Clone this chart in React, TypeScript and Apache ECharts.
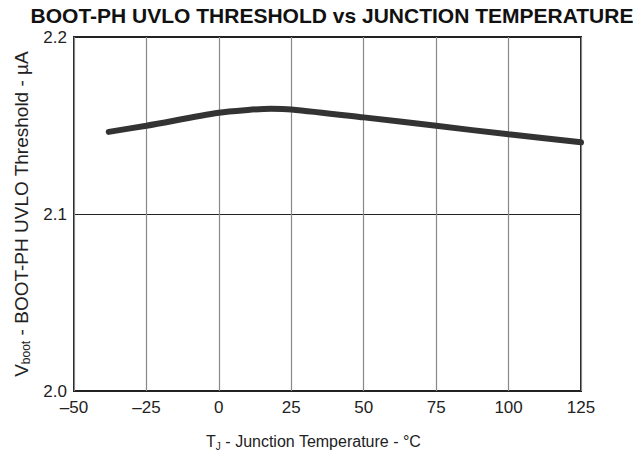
import React, { useEffect, useRef } from "react";
import * as echarts from "echarts";

const temps = [-38, -25, 0, 10, 18, 25, 50, 75, 100, 125];
const threshold = [2.1464, 2.1499, 2.1572, 2.1588, 2.1595, 2.1591, 2.1546, 2.1498, 2.1450, 2.1405];
const yTicks = [2.0, 2.1, 2.2];

export default function App() {
  const ref = useRef<HTMLDivElement>(null);
  useEffect(() => {
    if (!ref.current) return;
    const chart = echarts.init(ref.current, null, { renderer: "svg" });
    const font = "Liberation Sans, Arial, sans-serif";
    chart.setOption({
      animation: false,
      title: {
        text: "BOOT-PH UVLO THRESHOLD vs JUNCTION TEMPERATURE",
        left: 332,
        textAlign: "center",
        top: 5,
        padding: 0,
        textStyle: { fontFamily: font, fontSize: 21, fontWeight: "bold", color: "#111" },
      },
      grid: { left: 74, right: 62, top: 37, bottom: 62, show: true, borderColor: "#222", borderWidth: 2, containLabel: false },
      xAxis: {
        type: "value",
        min: -50,
        max: 125,
        interval: 25,
        name: "T{sub|J} - Junction Temperature - °C",
        nameLocation: "middle",
        nameGap: 41,
        nameTextStyle: {
          fontFamily: font, fontSize: 16, color: "#222", padding: [0, 28, 0, 0],
          rich: { sub: { fontFamily: font, fontSize: 10, verticalAlign: "bottom", padding: [9, 0, 0, 0], color: "#222" } },
        },
        axisLine: { show: false },
        axisTick: { show: false },
        axisLabel: {
          fontFamily: font, fontSize: 17, color: "#222", margin: 8,
          formatter: (v: number) => String(v).replace("-", "\u2013"),
        },
        splitLine: { show: true, lineStyle: { color: "#888", width: 1.2 } },
      },
      yAxis: {
        type: "value",
        min: 2.0,
        max: 2.2,
        interval: 0.1,
        name: "V{sub|boot} - BOOT-PH UVLO Threshold - µA",
        nameLocation: "middle",
        nameGap: 38,
        nameTextStyle: {
          fontFamily: font, fontSize: 19, color: "#222",
          rich: { sub: { fontFamily: font, fontSize: 12, verticalAlign: "bottom", padding: [10, 0, 0, 0], color: "#222" } },
        },
        axisLine: { show: false },
        axisTick: { show: false },
        axisLabel: {
          fontFamily: font, fontSize: 17, color: "#222", margin: 7,
          formatter: (v: number) => {
            const t = yTicks.find((x) => Math.abs(x - v) < 1e-6);
            return t !== undefined ? t.toFixed(1) : "";
          },
        },
        splitLine: { show: true, lineStyle: { color: "#222", width: 1 } },
      },
      series: [
        {
          type: "line",
          data: temps.map((t, i) => [t, threshold[i]]),
          smooth: 0.3,
          showSymbol: false,
          lineStyle: { color: "#333", width: 6, cap: "round" },
        },
      ],
    });
    return () => chart.dispose();
  }, []);
  return <div ref={ref} style={{ width: 643, height: 456, position: "absolute", left: 0, top: 0 }} />;
}
